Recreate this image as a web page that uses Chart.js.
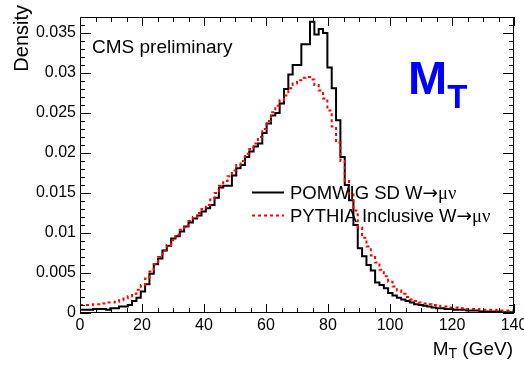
<!DOCTYPE html>
<html><head><meta charset="utf-8">
<script src="https://cdn.jsdelivr.net/npm/chart.js@4/dist/chart.umd.min.js"></script>
<style>html,body{margin:0;padding:0;background:#fff;overflow:hidden}#wrap{width:524px;height:366px;position:relative}</style>
</head><body><div id="wrap"><canvas id="c" width="524" height="366"></canvas></div>
<script>
// Histogram binning: 100 bins from 0 to 140 GeV
const binLow = 0;
const binWidth = 1.4;

// POMWIG SD W->mu nu (density per bin)
const pomwigSD = [
 0.0004,0.0004,0.0004,0.0004,0.0005,0.0005,0.0005,0.0004,0.0006,0.0006,
 0.0008,0.0008,0.0010,0.0015,0.0019,0.0027,0.0036,0.0049,0.0061,0.0068,
 0.0078,0.0084,0.0093,0.0096,0.0102,0.0108,0.0113,0.0118,0.0122,0.0127,
 0.0131,0.0135,0.0144,0.0157,0.0159,0.0159,0.0172,0.0181,0.0185,0.0195,
 0.0202,0.0208,0.0212,0.0225,0.0237,0.0247,0.0250,0.0262,0.0280,0.0298,
 0.0310,0.0310,0.0336,0.0336,0.0364,0.0348,0.0355,0.0350,0.0307,0.0281,
 0.0241,0.0195,0.0160,0.0141,0.0110,0.0081,0.0071,0.0060,0.0053,0.0038,
 0.0035,0.0031,0.0025,0.0022,0.0019,0.0017,0.0015,0.0013,0.0011,0.0010,
 0.0009,0.0008,0.0007,0.0006,0.0006,0.0005,0.0005,0.0004,0.0004,0.0004,
 0.0003,0.0003,0.0003,0.0002,0.0002,0.0002,0.0002,0.0002,0.0001,0.0001
];

// PYTHIA Inclusive W->mu nu (density per bin)
const pythiaIncl = [
 0.0010,0.0010,0.0010,0.0010,0.0011,0.0011,0.0012,0.0013,0.0013,0.0014,
 0.0016,0.0018,0.0021,0.0024,0.0029,0.0035,0.0043,0.0052,0.0061,0.0070,
 0.0078,0.0085,0.0091,0.0098,0.0104,0.0109,0.0115,0.0120,0.0125,0.0130,
 0.0135,0.0142,0.0150,0.0159,0.0165,0.0171,0.0178,0.0185,0.0190,0.0199,
 0.0205,0.0212,0.0220,0.0230,0.0240,0.0251,0.0259,0.0266,0.0272,0.0281,
 0.0287,0.0291,0.0294,0.0295,0.0292,0.0285,0.0278,0.0268,0.0253,0.0233,
 0.0213,0.0190,0.0165,0.0148,0.0128,0.0107,0.0094,0.0083,0.0072,0.0063,
 0.0054,0.0046,0.0039,0.0033,0.0028,0.0024,0.0020,0.0017,0.0015,0.0013,
 0.0012,0.0011,0.0010,0.0009,0.0008,0.0008,0.0007,0.0007,0.0006,0.0006,
 0.0005,0.0005,0.0005,0.0004,0.0004,0.0004,0.0004,0.0003,0.0003,0.0003
];

const seriesLabels = ["POMWIG SD W\u2192\u03BC\u03BD", "PYTHIA Inclusive W\u2192\u03BC\u03BD"];
const xTicks = [0, 20, 40, 60, 80, 100, 120, 140];
const xTickLabels = ["0", "20", "40", "60", "80", "100", "120", "140"];
const yTicks = [0, 0.005, 0.01, 0.015, 0.02, 0.025, 0.03, 0.035];
const yTickLabels = ["0", "0.005", "0.01", "0.015", "0.02", "0.025", "0.03", "0.035"];
const xMinorStep = 5;
const yMinorStep = 0.001;

function toSteps(vals) {
  const pts = vals.map((v, i) => ({x: binLow + i * binWidth, y: v}));
  pts.push({x: binLow + vals.length * binWidth, y: vals[vals.length - 1]});
  return pts;
}

const FONT = "'Liberation Sans', Arial, Helvetica, sans-serif";

// draw a label, using a symbol-like font for arrow and greek letters
function drawMixed(ctx, text, x, y, size) {
  let cx = x;
  for (const ch of text) {
    let f;
    if (ch === '\u2192') f = (size) + "px 'DejaVu Sans', " + FONT;
    else if (ch === '\u03BC' || ch === '\u03BD') f = (size) + "px 'Liberation Serif', serif";
    else f = size + "px " + FONT;
    ctx.font = f;
    ctx.fillText(ch, cx, y);
    cx += ctx.measureText(ch).width;
  }
}

const decorPlugin = {
  id: 'decor',
  afterDatasetsDraw(chart) {
    const ctx = chart.ctx;
    const a = chart.chartArea;
    const xs = chart.scales.x, ys = chart.scales.y;
    ctx.save();
    // frame
    ctx.strokeStyle = '#000';
    ctx.lineWidth = 1;
    ctx.strokeRect(a.left + 0.5, a.top + 0.5, a.right - a.left - 1, a.bottom - a.top - 1);
    // ticks (inside)
    ctx.beginPath();
    for (let v = xs.min; v <= xs.max + 1e-9; v += xMinorStep) {
      const px = Math.round(xs.getPixelForValue(v)) + 0.5;
      const major = xTicks.some(t => Math.abs(t - v) < 1e-9);
      const len = major ? 9 : 5;
      ctx.moveTo(px, a.bottom); ctx.lineTo(px, a.bottom - len);
      ctx.moveTo(px, a.top); ctx.lineTo(px, a.top + len);
    }
    for (let k = 0; ; k++) {
      const v = k * yMinorStep;
      if (v > ys.max + 1e-12) break;
      const py = Math.round(ys.getPixelForValue(v)) + 0.5;
      const major = yTicks.some(t => Math.abs(t - v) < 1e-9);
      const len = major ? 11 : 5;
      ctx.moveTo(a.left, py); ctx.lineTo(a.left + len, py);
      ctx.moveTo(a.right, py); ctx.lineTo(a.right - len, py);
    }
    ctx.stroke();

    ctx.fillStyle = '#000';
    // CMS preliminary
    ctx.font = "19px " + FONT;
    ctx.textAlign = 'left';
    ctx.textBaseline = 'alphabetic';
    ctx.fillText("CMS preliminary", 92, 53);

    // big M_T
    ctx.fillStyle = '#0000ff';
    ctx.font = "bold 47px " + FONT;
    ctx.fillText("M", 408, 94);
    const mw = ctx.measureText("M").width;
    ctx.font = "bold 33px " + FONT;
    ctx.fillText("T", 408 + mw, 108);

    // legend
    const ds = chart.data.datasets;
    const legendRows = [{ds: ds[1], ly: 192.5, ty: 198.5}, {ds: ds[0], ly: 215.5, ty: 221.5}];
    legendRows.forEach(r => {
      ctx.save();
      ctx.strokeStyle = r.ds.borderColor;
      ctx.lineWidth = r.ds.borderWidth;
      ctx.setLineDash(r.ds.borderDash || []);
      ctx.beginPath();
      ctx.moveTo(252, r.ly); ctx.lineTo(284, r.ly);
      ctx.stroke();
      ctx.restore();
      ctx.fillStyle = '#000';
      ctx.textAlign = 'left';
      drawMixed(ctx, r.ds.label, 290, r.ty, 18.5);
    });

    // y title
    ctx.save();
    ctx.fillStyle = '#000';
    ctx.font = "20px " + FONT;
    ctx.translate(28, 5);
    ctx.rotate(-Math.PI / 2);
    ctx.textAlign = 'right';
    ctx.fillText("Density", 0, 0);
    ctx.restore();

    // x title M_T (GeV), right aligned at 513
    ctx.fillStyle = '#000';
    ctx.textAlign = 'left';
    ctx.font = "19px " + FONT;
    const tail = " (GeV)";
    const wTail = ctx.measureText(tail).width;
    const wM = ctx.measureText("M").width;
    ctx.font = "14px " + FONT;
    const wT = ctx.measureText("T").width;
    let x0 = 513 - wTail - wT - wM;
    ctx.font = "19px " + FONT;
    ctx.fillText("M", x0, 355);
    ctx.font = "14px " + FONT;
    ctx.fillText("T", x0 + wM, 358);
    ctx.font = "19px " + FONT;
    ctx.fillText(tail, x0 + wM + wT, 355);
    ctx.restore();
  }
};

new Chart(document.getElementById('c'), {
  type: 'line',
  data: {
    datasets: [
      {label: seriesLabels[1], data: toSteps(pythiaIncl), stepped: 'after', borderColor: '#ff0000',
       borderWidth: 2, borderDash: [3, 3], pointRadius: 0, fill: false},
      {label: seriesLabels[0], data: toSteps(pomwigSD), stepped: 'after', borderColor: '#000000',
       borderWidth: 2, pointRadius: 0, fill: false}
    ]
  },
  options: {
    responsive: false,
    animation: false,
    devicePixelRatio: 1,
    layout: {padding: {top: 17, right: 10, left: 0, bottom: 0}},
    plugins: {legend: {display: false}, tooltip: {enabled: false}},
    scales: {
      x: {
        type: 'linear', min: 0, max: 140,
        grid: {display: false, drawTicks: false},
        border: {display: false},
        afterBuildTicks: s => { s.ticks = xTicks.map(v => ({value: v})); },
        afterFit: s => { s.height = 53; s.paddingLeft = 0; s.paddingRight = 0; },
        ticks: {
          autoSkip: false, maxRotation: 0, padding: 3, color: '#000',
          font: {family: FONT, size: 16},
          callback: (v, i) => xTickLabels[i]
        }
      },
      y: {
        type: 'linear', min: 0, max: 0.037,
        grid: {display: false, drawTicks: false},
        border: {display: false},
        afterBuildTicks: s => { s.ticks = yTicks.map(v => ({value: v})); },
        afterFit: s => { s.width = 80; s.paddingTop = 0; s.paddingBottom = 0; },
        ticks: {
          autoSkip: false, padding: 4, color: '#000',
          font: {family: FONT, size: 16},
          callback: (v, i) => yTickLabels[i]
        }
      }
    }
  },
  plugins: [decorPlugin]
});
</script>
</body></html>
